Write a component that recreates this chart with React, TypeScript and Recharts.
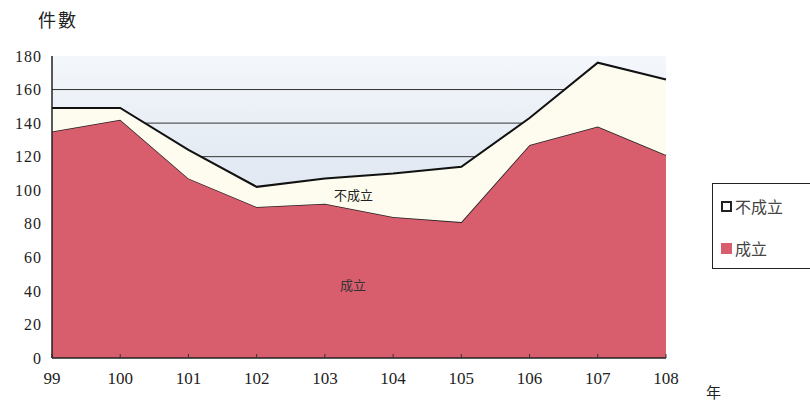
import { AreaChart, Area, XAxis, YAxis, CartesianGrid } from 'recharts';

// 年度 (民國)
const years = ['99', '100', '101', '102', '103', '104', '105', '106', '107', '108'];
// 成立件數
const passed = [135, 142, 107, 90, 92, 84, 81, 127, 138, 121];
// 不成立件數
const failed = [14, 7, 17, 12, 15, 26, 33, 16, 38, 45];
const yTicks = [0, 20, 40, 60, 80, 100, 120, 140, 160, 180];
const gridLines = [20, 40, 60, 80, 100, 120, 140, 160];

const RED = '#d85e6e';
const CREAM = '#fdfcef';
const serif = '"Liberation Serif", "DejaVu Serif", serif';
const cjk = '"Noto Sans CJK TC", "Noto Sans CJK JP", sans-serif';

const data = years.map((y, i) => ({ year: y, 成立: passed[i], 不成立: failed[i] }));

/**
 * 凡例（右側の枠付き）
 */
function LegendBox() {
  const items = [
    { name: '不成立', color: '#ffffff', border: '2px solid #222' },
    { name: '成立', color: RED, border: 'none' },
  ];
  return (
    <div
      style={{
        position: 'absolute',
        left: 712,
        top: 183,
        width: 120,
        height: 86,
        border: '1.5px solid #222',
        background: '#fff',
        boxSizing: 'border-box',
        fontFamily: cjk,
        fontSize: 16,
        lineHeight: '18px',
        color: '#444',
      }}
    >
      {items.map((item, i) => (
        <div
          key={i}
          style={{ position: 'absolute', left: 8, top: i === 0 ? 13 : 55, display: 'flex', alignItems: 'center', gap: 3 }}
        >
          <div
            style={{ width: 11, height: 11, backgroundColor: item.color, border: item.border, boxSizing: 'border-box' }}
          />
          <span>{item.name}</span>
        </div>
      ))}
    </div>
  );
}

export default function App() {
  return (
    <div style={{ position: 'absolute', left: 0, top: 0, width: 810, height: 402, background: '#fff', overflow: 'hidden' }}>
      <AreaChart width={810} height={402} data={data} margin={{ top: 56, right: 144, bottom: 14, left: 12 }}>
        <defs>
          <linearGradient id="plotBg" x1="0" y1="0" x2="0" y2="1">
            <stop offset="0%" stopColor="#f4f7fb" />
            <stop offset="35%" stopColor="#e3eaf3" />
            <stop offset="100%" stopColor="#dfe7f1" />
          </linearGradient>
        </defs>
        <CartesianGrid
          vertical={false}
          horizontalValues={gridLines}
          stroke="#333"
          strokeWidth={1}
          fill="url(#plotBg)"
          fillOpacity={1}
        />
        <Area
          type="linear"
          dataKey="成立"
          stackId="a"
          stroke="#222"
          strokeWidth={1.5}
          fill={RED}
          fillOpacity={1}
          isAnimationActive={false}
        />
        <Area
          type="linear"
          dataKey="不成立"
          stackId="a"
          stroke="#111"
          strokeWidth={2}
          fill={CREAM}
          fillOpacity={1}
          isAnimationActive={false}
        />
        <XAxis
          dataKey="year"
          height={30}
          axisLine={{ stroke: '#222', strokeWidth: 1.5 }}
          tickLine={{ stroke: '#333', strokeWidth: 1 }}
          tickSize={-4}
          tickMargin={18}
          tick={{ fill: '#222', fontFamily: serif, fontSize: 17 }}
          interval={0}
        />
        <YAxis
          domain={[0, 180]}
          ticks={yTicks}
          width={40}
          axisLine={{ stroke: '#222', strokeWidth: 1.5 }}
          tickLine={false}
          tickMargin={4}
          tick={{ fill: '#222', fontFamily: serif, fontSize: 16, letterSpacing: 1 }}
          interval={0}
        />
      </AreaChart>
      <div style={{ position: 'absolute', left: 38, top: 8, fontFamily: cjk, fontSize: 18, lineHeight: '22px', color: '#222', letterSpacing: 2 }}>
        件數
      </div>
      <div style={{ position: 'absolute', left: 334, top: 187, fontFamily: cjk, fontSize: 13, lineHeight: '16px', color: '#222' }}>不成立</div>
      <div style={{ position: 'absolute', left: 340, top: 277, fontFamily: cjk, fontSize: 13, lineHeight: '16px', color: '#333' }}>成立</div>
      <div style={{ position: 'absolute', left: 706, top: 384, fontFamily: cjk, fontSize: 15, lineHeight: '16px', color: '#222' }}>年</div>
      <LegendBox />
    </div>
  );
}
